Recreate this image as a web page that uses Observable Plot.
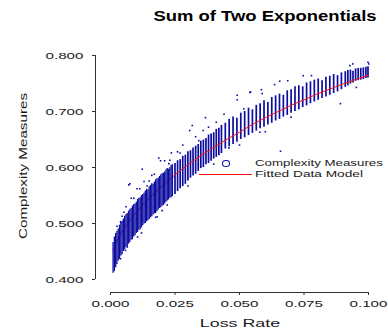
<!DOCTYPE html>
<html>
<head>
<meta charset="utf-8">
<script src="https://cdn.jsdelivr.net/npm/d3@7"></script>
<script src="https://cdn.jsdelivr.net/npm/@observablehq/plot@0.6"></script>
<style>
  html, body { margin: 0; padding: 0; background: #fff; }
  #wrap { position: relative; width: 388px; height: 330px; overflow: hidden; font-family: "Liberation Sans", Arial, sans-serif; color: #1a1a1a; }
  #wrap svg { position: absolute; left: 0; top: 0; }
  .t { position: absolute; white-space: nowrap; line-height: 1; }
</style>
</head>
<body>
<div id="wrap"></div>
<script>
// ---- data ----
const titleText = "Sum of Two Exponentials";
const xLabel = "Loss Rate";
const yLabel = "Complexity Measures";
const legendPoints = "Complexity Measures";
const legendLine = "Fitted Data Model";

const xTicks = [0, 0.025, 0.05, 0.075, 0.1];
const yTicks = [0.4, 0.5, 0.6, 0.7, 0.8];

// dense left part of the cloud: loss-rate column, lowest and highest measure
const blobX  = [0.001,0.0015,0.002,0.0025,0.003,0.0035,0.004,0.0045,0.005,0.0055,0.006,0.0065,0.007,0.0075,0.008,0.0085,0.009,0.0095,0.010,0.0105,0.011,0.0115,0.012,0.0125,0.013,0.0135,0.014,0.0145,0.015,0.0155,0.016,0.0165,0.017,0.0175,0.018,0.0185,0.019,0.0195,0.020,0.0205,0.021,0.0215,0.022,0.0225,0.023,0.0235,0.024];
const blobLo = [0.411,0.414,0.421,0.427,0.433,0.436,0.442,0.444,0.450,0.453,0.457,0.459,0.463,0.466,0.470,0.471,0.476,0.478,0.482,0.484,0.488,0.489,0.492,0.496,0.499,0.500,0.503,0.505,0.507,0.510,0.512,0.515,0.517,0.518,0.521,0.524,0.527,0.528,0.531,0.532,0.535,0.538,0.540,0.542,0.545,0.546,0.548];
const blobHi = [0.466,0.476,0.482,0.486,0.490,0.497,0.502,0.504,0.508,0.513,0.516,0.518,0.522,0.525,0.527,0.531,0.534,0.535,0.538,0.543,0.545,0.546,0.550,0.552,0.554,0.558,0.561,0.560,0.565,0.568,0.571,0.570,0.574,0.578,0.580,0.581,0.584,0.587,0.589,0.590,0.592,0.596,0.598,0.597,0.600,0.604,0.605];

// streaks of the cloud: loss-rate column, lowest and highest measure
const streakX  = [0.025,0.026,0.027,0.028,0.029,0.030,0.031,0.032,0.033,0.034,0.035,0.036,0.037,0.038,0.039,0.040,0.041,0.042,0.043,
  0.0445,0.046,0.0475,0.049,0.0505,0.052,0.0535,0.055,0.0565,0.058,0.0595,0.061,0.0625,0.064,0.0655,0.067,0.0685,0.070,0.0715,0.073,0.0745,0.076,0.0775,0.079,0.0805,0.082,0.0835,0.085,0.0865,0.088,0.0895,0.091,0.092,0.093,0.094,0.095,0.096,0.097,0.098,0.099,0.0998];
const streakLo = [0.552,0.557,0.562,0.566,0.570,0.576,0.581,0.585,0.588,0.593,0.598,0.600,0.605,0.607,0.611,0.615,0.618,0.621,0.625,
  0.633,0.637,0.641,0.645,0.650,0.653,0.657,0.661,0.665,0.669,0.672,0.676,0.679,0.683,0.686,0.690,0.693,0.697,0.700,0.703,0.707,0.710,0.714,0.717,0.720,0.723,0.726,0.729,0.732,0.735,0.739,0.743,0.746,0.749,0.751,0.754,0.755,0.756,0.757,0.759,0.760];
const streakHi = [0.607,0.612,0.614,0.620,0.622,0.628,0.630,0.635,0.638,0.641,0.647,0.649,0.652,0.658,0.660,0.662,0.668,0.670,0.675,
  0.679,0.686,0.690,0.688,0.697,0.700,0.706,0.703,0.711,0.714,0.719,0.716,0.725,0.728,0.731,0.729,0.737,0.739,0.744,0.746,0.744,0.751,0.753,0.756,0.758,0.755,0.761,0.763,0.766,0.764,0.769,0.771,0.773,0.774,0.772,0.776,0.777,0.777,0.778,0.779,0.780];

// isolated measures
const outX = [0.0491,0.0540,0.0585,0.0636,0.0656,0.0687,0.0747,0.0779,0.0891,0.0659,0.0953,0.0939,0.0928,0.1001,0.0517,0.0588,0.0491,0.0368,0.0317,0.0307,0.0359,0.0342,0.0236,0.0187,0.0123,0.0075,0.0052,0.0039,0.0114,0.0194,0.0226,0.0181,0.0071,0.0103,0.0142,0.0058,0.0039,0.0579,0.0459,
  0.0060,0.0080,0.0130,0.0160,0.0210,0.0260,0.0280,0.0330,0.0380,0.0410,0.0440,0.0120,0.0200,0.0300,0.0400,0.0500,0.0600,0.0700,0.0543,0.0998,
  0.0025,0.0045,0.0090,0.0150,0.0170,0.0230,0.0270,0.0065,0.0105,0.0175,0.0220];
const outY = [0.721,0.734,0.739,0.748,0.754,0.755,0.764,0.764,0.714,0.629,0.743,0.785,0.782,0.785,0.705,0.732,0.729,0.689,0.675,0.666,0.666,0.648,0.626,0.617,0.597,0.571,0.520,0.503,0.562,0.612,0.607,0.512,0.569,0.562,0.567,0.452,0.437,0.663,0.635,
  0.530,0.545,0.575,0.586,0.612,0.628,0.640,0.655,0.672,0.681,0.695,0.483,0.523,0.567,0.606,0.640,0.664,0.690,0.735,0.788,
  0.495,0.513,0.545,0.576,0.588,0.613,0.626,0.458,0.476,0.511,0.533];

// fitted sum-of-two-exponentials curve
const fitX = [0.001,0.002,0.003,0.005,0.0075,0.01,0.0125,0.015,0.0175,0.02,0.025,0.03,0.035,0.04,0.045,0.05,0.055,0.06,0.065,0.07,0.075,0.08,0.085,0.09,0.095,0.1];
const fitY = [0.452,0.463,0.473,0.489,0.506,0.520,0.533,0.545,0.556,0.567,0.587,0.605,0.621,0.636,0.650,0.663,0.677,0.689,0.700,0.711,0.721,0.731,0.740,0.749,0.757,0.765];

// ---- tables ----
const blob = blobX.map((x, i) => ({x, lo: blobLo[i], hi: blobHi[i]}));
const streaks = streakX.map((x, i) => ({x, lo: streakLo[i], hi: streakHi[i]}));
const outliers = outX.map((x, i) => ({x, y: outY[i]}));
const fit = fitX.map((x, i) => ({x, y: fitY[i]}));

const navy = "#0c0ca0";
const axisColor = "#333";

const svg = Plot.plot({
  width: 388,
  height: 330,
  marginLeft: 110,
  marginRight: 20,
  marginTop: 55,
  marginBottom: 51,
  style: {fontFamily: "Liberation Sans, Arial, sans-serif", fontSize: "9.5px", color: "#1a1a1a", background: "#fff"},
  x: {domain: [0, 0.1]},
  y: {domain: [0.4, 0.8]},
  marks: [
    Plot.ruleX(streaks, {x: "x", y1: "lo", y2: "hi", stroke: navy, strokeWidth: 1.7}),
    Plot.line(fit, {x: "x", y: "y", stroke: "#ff1010", strokeWidth: 1}),
    Plot.ruleX(blob, {x: "x", y1: "lo", y2: "hi", stroke: navy, strokeWidth: 1.3}),
    Plot.dot(outliers, {x: "x", y: "y", symbol: "square", r: 0.9, fill: navy}),
    Plot.ruleX([0], {y1: 0.4, y2: 0.8, dx: -15, stroke: axisColor}),
    Plot.ruleY([0.4], {x1: 0, x2: 0.1, dy: 13, stroke: axisColor}),
    Plot.axisY({ticks: yTicks, tickFormat: d3.format(".3f"), tickSize: 3, tickPadding: 9, dx: -15, label: null, stroke: axisColor}),
    Plot.axisX({ticks: xTicks, tickFormat: d3.format(".3f"), tickSize: 3, tickPadding: 5, dy: 13, label: null, stroke: axisColor})
  ]
});

// widen tick label glyphs like the reference typeface
svg.querySelectorAll('g[aria-label$="tick label"] text').forEach(t => {
  const tr = t.getAttribute("transform") || "";
  t.setAttribute("transform", tr + " scale(1.6,1)");
});

const wrap = document.getElementById("wrap");
wrap.appendChild(svg);

function addText(txt, opts) {
  const d = document.createElement("div");
  d.className = "t";
  d.textContent = txt;
  Object.assign(d.style, opts);
  wrap.appendChild(d);
  return d;
}

addText(titleText, {left: "264.5px", top: "14.7px", fontSize: "15px", fontWeight: "bold", color: "#000",
  transform: "translate(-50%,-50%) scaleX(1.23)"});
addText(xLabel, {left: "239.5px", top: "323.5px", fontSize: "11.5px",
  transform: "translate(-50%,-50%) scaleX(1.55)"});
addText(yLabel, {left: "23px", top: "166px", fontSize: "11px",
  transform: "translate(-50%,-50%) rotate(-90deg) scaleX(1.38)"});
addText(legendPoints, {left: "255px", top: "163.3px", fontSize: "9.5px", transformOrigin: "left center",
  transform: "translateY(-50%) scaleX(1.4)"});
addText(legendLine, {left: "255px", top: "174.3px", fontSize: "9.5px", transformOrigin: "left center",
  transform: "translateY(-50%) scaleX(1.44)"});

// legend symbols
const circ = document.createElement("div");
Object.assign(circ.style, {position: "absolute", left: "221.5px", top: "159.5px", width: "6.5px", height: "5px",
  border: "1.3px solid " + navy, borderRadius: "50%"});
wrap.appendChild(circ);
const ln = document.createElement("div");
Object.assign(ln.style, {position: "absolute", left: "199px", top: "173.5px", width: "53px", height: "1px", background: "#ff1010"});
wrap.appendChild(ln);
</script>
</body>
</html>
